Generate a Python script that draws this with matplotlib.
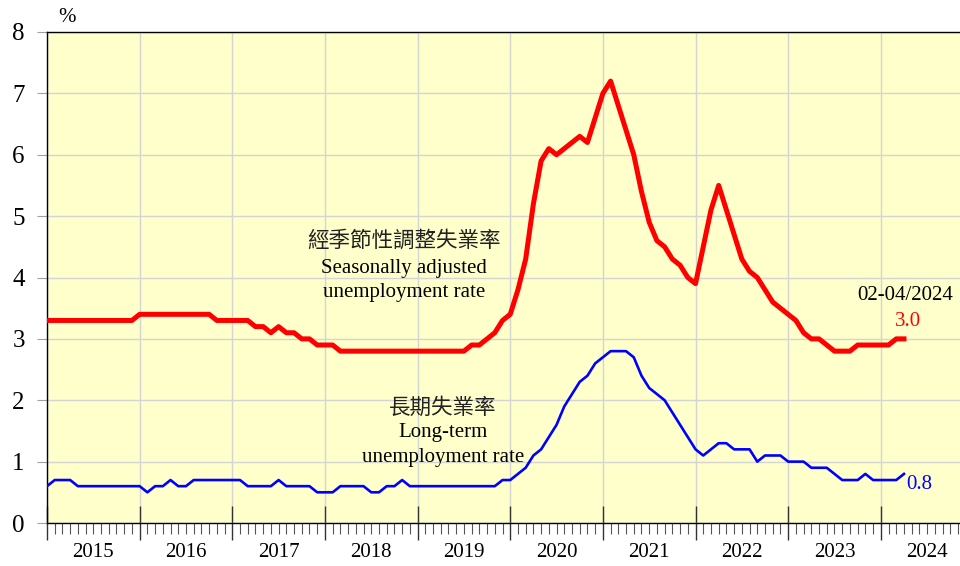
import matplotlib.pyplot as plt
import matplotlib.transforms as mtransforms
import numpy as np

# monthly points, Jan 2015 = 0 ... Apr 2024 = 111 (end month of 3-month period)
sa_rate = [3.3] * 12 + [3.4] * 10 + [3.3] * 5 + [3.2, 3.2, 3.1, 3.2, 3.1, 3.1, 3.0, 3.0,
           2.9, 2.9, 2.9] + [2.8] * 17 + [
           2.9, 2.9, 3.0, 3.1, 3.3, 3.4, 3.8, 4.3, 5.2, 5.9, 6.1, 6.0, 6.1, 6.2, 6.3, 6.2,
           6.6, 7.0, 7.2, 6.8, 6.4, 6.0, 5.4, 4.9, 4.6, 4.5, 4.3, 4.2, 4.0, 3.9, 4.5, 5.1,
           5.5, 5.1, 4.7, 4.3, 4.1, 4.0, 3.8, 3.6, 3.5, 3.4, 3.3, 3.1, 3.0, 3.0, 2.9,
           2.8, 2.8, 2.8, 2.9, 2.9, 2.9, 2.9, 2.9, 3.0, 3.0]
lt_rate = [0.6, 0.7, 0.7, 0.7] + [0.6] * 9 + [0.5, 0.6, 0.6, 0.7, 0.6, 0.6] + [0.7] * 7 + \
          [0.6] * 4 + [0.7] + [0.6] * 4 + [0.5] * 3 + [0.6] * 4 + [0.5, 0.5, 0.6, 0.6, 0.7] + \
          [0.6] * 12 + [
          0.7, 0.7, 0.8, 0.9, 1.1, 1.2, 1.4, 1.6, 1.9, 2.1, 2.3, 2.4, 2.6, 2.7, 2.8, 2.8,
          2.8, 2.7, 2.4, 2.2, 2.1, 2.0, 1.8, 1.6, 1.4, 1.2, 1.1, 1.2, 1.3, 1.3, 1.2, 1.2,
          1.2, 1.0, 1.1, 1.1, 1.1, 1.0, 1.0, 1.0, 0.9, 0.9, 0.9, 0.8, 0.7, 0.7, 0.7, 0.8,
          0.7, 0.7, 0.7, 0.7, 0.8]
years = list(range(2015, 2025))
months = np.arange(len(sa_rate))

serif = ['Liberation Serif', 'Noto Sans CJK TC']
plt.rcParams['font.family'] = serif

fig = plt.figure(figsize=(9.6, 5.66), dpi=100)
ax = fig.add_axes([47 / 960, 1 - 523 / 566, 1 - 47 / 960 + 0.01, (523 - 32) / 566])
ax.set_facecolor('#ffffcc')

ax.plot(months, sa_rate, color='#ff0000', lw=3.6, solid_joinstyle='round', zorder=3)
ax.plot(np.arange(len(lt_rate)), lt_rate, color='#0000ff', lw=1.9, zorder=3)

ax.set_xlim(0, 119.5)
ax.set_ylim(0, 8)
ax.set_yticks(range(0, 9))
ax.set_xticks([12 * k for k in range(len(years))])
ax.set_xticks(range(0, 120), minor=True)
ax.set_xticklabels([])
ax.grid(True, which='major', color='#d4d4d4', lw=1)
ax.tick_params(axis='y', which='major', length=7, color='#a0a0a0', labelsize=18, pad=9)
ax.tick_params(axis='x', which='major', direction='inout', length=24, width=1, color='#333333')
ax.tick_params(axis='x', which='minor', direction='out', length=8, width=0.8, color='#555555')
ax.spines['right'].set_visible(False)
for s in ['left', 'top', 'bottom']:
    ax.spines[s].set_color('black')
    ax.spines[s].set_linewidth(1)

trans = mtransforms.blended_transform_factory(ax.transData, ax.transAxes)
for k, yr in enumerate(years):
    ax.text(12 * k + 6, -0.06, str(yr), transform=trans, ha='center', va='center', fontsize=15)

ax.text(0.022, 1.03, '%', transform=ax.transAxes, ha='center', va='center', fontsize=15)

ax.text(46.2, 4.59, '經季節性調整失業率', ha='center', va='center', fontsize=15.5, color='#222222')
ax.text(46.2, 4.15, 'Seasonally adjusted', ha='center', va='center', fontsize=15)
ax.text(46.2, 3.75, 'unemployment rate', ha='center', va='center', fontsize=15)

ax.text(51.3, 1.87, '長期失業率', ha='center', va='center', fontsize=15.5, color='#222222')
ax.text(51.3, 1.47, 'Long-term', ha='center', va='center', fontsize=15)
ax.text(51.3, 1.07, 'unemployment rate', ha='center', va='center', fontsize=15)

ax.text(111.2, 3.71, '02-04/2024', ha='center', va='center', fontsize=15)
ax.text(111.5, 3.28, '%.1f' % sa_rate[-1], ha='center', va='center', fontsize=15, color='#ff0000')
ax.text(111.25, 0.62, '%.1f' % lt_rate[-1], ha='left', va='center', fontsize=15, color='#0000ff')

fig.savefig('out.png', dpi=100, facecolor='white')
